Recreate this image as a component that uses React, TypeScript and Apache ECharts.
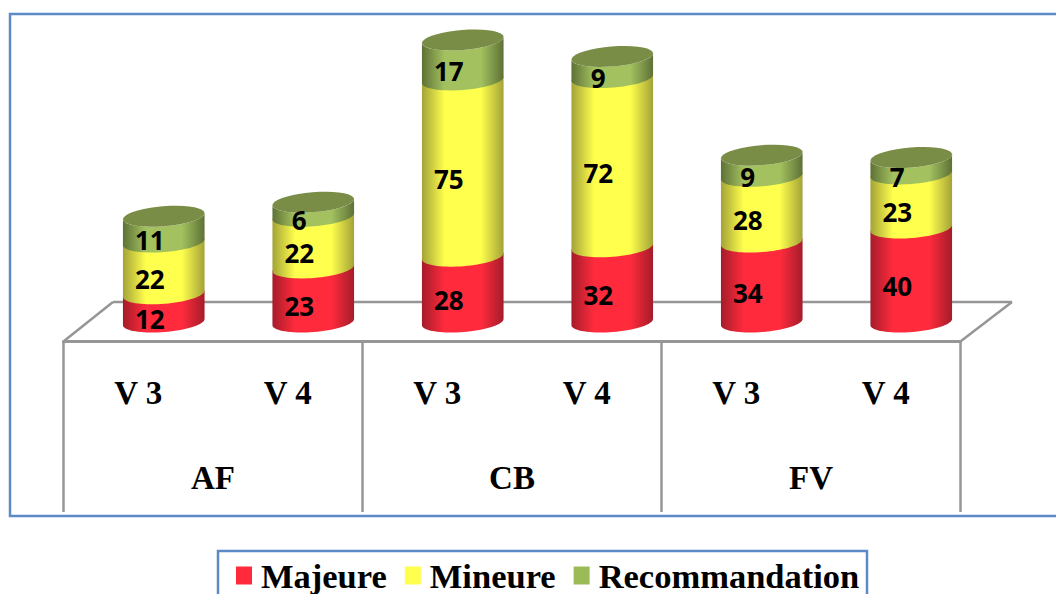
import React, { useEffect, useRef } from "react";
import * as echarts from "echarts";

const versions = ["V 3", "V 4", "V 3", "V 4", "V 3", "V 4"];
const groups = ["AF", "CB", "FV"];
const majeure = [12, 23, 28, 32, 34, 40];
const mineure = [22, 22, 75, 72, 28, 23];
const recommandation = [11, 6, 17, 9, 9, 7];

const seriesNames = ["Majeure", "Mineure", "Recommandation"];
const seriesValues = [majeure, mineure, recommandation];
const legendColors = ["#FF2B3D", "#FFFF4D", "#9BBB59"];
const edgeColors = ["#A51C2A", "#A3A338", "#5E7136"];
const midColors = ["#FF2B3D", "#FFFF4D", "#A3C25F"];
const topColor = "#7A8D47";

const serif = "'Liberation Serif', serif";
const GRAY = "#969696";

function buildData(k: number) {
  return seriesValues[k].map((v, i) => {
    let start = 0;
    for (let j = 0; j < k; j++) start += seriesValues[j][i];
    return [i, start, start + v, v];
  });
}

// Points of the tilted ellipse, left to right, through the front (t0=PI, t1=0) or the back.
function arc(cx: number, cy: number, rx: number, t0: number, t1: number) {
  const tilt = (-4.6 * Math.PI) / 180;
  const a = rx / Math.cos(tilt);
  const b = 10;
  const pts: number[][] = [];
  const steps = 36;
  for (let s = 0; s <= steps; s++) {
    const t = t0 + ((t1 - t0) * s) / steps;
    pts.push([
      cx + a * Math.cos(t) * Math.cos(tilt) - b * Math.sin(t) * Math.sin(tilt),
      cy + a * Math.cos(t) * Math.sin(tilt) + b * Math.sin(t) * Math.cos(tilt),
    ]);
  }
  return pts;
}

function renderCylinder(k: number) {
  return (_params: any, api: any) => {
    const i = api.value(0);
    const bottom = api.coord([i, api.value(1)]);
    const top = api.coord([i, api.value(2)]);
    const rx = api.size([1, 0])[0] * 0.273;
    const cx = bottom[0];
    const isLast = k === seriesValues.length - 1;
    // Lower segments run under the next one so no seam shows between them.
    const upper = arc(cx, top[1] - (isLast ? 0 : 1.5), rx, Math.PI, 0);
    const lower = arc(cx, bottom[1], rx, Math.PI, 0).reverse();
    const fill = new echarts.graphic.LinearGradient(0, 0, 1, 0, [
      { offset: 0, color: edgeColors[k] },
      { offset: 0.28, color: midColors[k] },
      { offset: 0.72, color: midColors[k] },
      { offset: 1, color: edgeColors[k] },
    ]);
    const children: any[] = [
      { type: "polygon", shape: { points: upper.concat(lower) }, style: { fill, stroke: "none" } },
    ];
    if (isLast) {
      children.push({
        type: "polygon",
        shape: { points: arc(cx, top[1], rx, Math.PI, -Math.PI) },
        style: { fill: topColor, stroke: "none" },
      });
    }
    children.push({
      type: "text",
      z2: 100,
      x: cx - 14,
      y: (top[1] + bottom[1]) / 2 + 11,
      style: {
        text: String(api.value(3)),
        fill: "#000",
        font: "700 26px 'Open Sans', sans-serif",
        align: "center",
        verticalAlign: "middle",
      },
    });
    return { type: "group", children };
  };
}

export default function App() {
  const ref = useRef<HTMLDivElement>(null);
  useEffect(() => {
    document.body.style.margin = "0";
    const chart = echarts.init(ref.current!, null, { renderer: "svg" });
    const floorLine = { stroke: GRAY, lineWidth: 2.5 };
    chart.setOption({
      animation: false,
      backgroundColor: "#fff",
      grid: [
        { left: 89, top: 40, width: 897, height: 282 },
        { left: 63.5, top: 341, width: 897, height: 171 },
      ],
      xAxis: [
        { gridIndex: 0, type: "category", data: versions, show: false },
        {
          gridIndex: 1,
          type: "category",
          data: groups,
          position: "top",
          axisLine: { show: true, onZero: false, lineStyle: { color: GRAY, width: 3 } },
          axisTick: { show: false },
          splitLine: { show: true, interval: 0, lineStyle: { color: GRAY, width: 2.5 } },
          axisLabel: {
            inside: true,
            interval: 0,
            margin: 120,
            color: "#000",
            fontFamily: serif,
            fontWeight: "bold",
            fontSize: 33,
          },
        },
        {
          gridIndex: 1,
          type: "category",
          data: versions,
          position: "top",
          axisLine: { show: false, onZero: false },
          axisTick: { show: false },
          axisLabel: {
            inside: true,
            interval: 0,
            margin: 35,
            color: "#000",
            fontFamily: serif,
            fontWeight: "bold",
            fontSize: 33,
          },
        },
      ],
      yAxis: [
        { gridIndex: 0, type: "value", min: 0, max: 120, show: false },
        { gridIndex: 1, type: "value", min: 0, max: 1, show: false },
      ],
      legend: {
        left: 236,
        top: 558,
        padding: 0,
        itemWidth: 16,
        itemHeight: 18,
        itemGap: 18,
        icon: "rect",
        selectedMode: false,
        data: seriesNames,
        textStyle: {
          color: "#000",
          fontFamily: serif,
          fontWeight: "bold",
          fontSize: 34.5,
          padding: [0, 0, 0, 4],
        },
      },
      graphic: [
        {
          type: "rect",
          shape: { x: 10, y: 14, width: 1100, height: 502 },
          style: { fill: "none", stroke: "#5B8AC6", lineWidth: 2.5 },
        },
        {
          type: "rect",
          shape: { x: 218, y: 551, width: 649, height: 80 },
          style: { fill: "none", stroke: "#5B8AC6", lineWidth: 2.5 },
        },
        { type: "line", shape: { x1: 64, y1: 341, x2: 113, y2: 302 }, style: floorLine },
        { type: "line", shape: { x1: 113, y1: 302, x2: 1012, y2: 302 }, style: floorLine },
        { type: "line", shape: { x1: 961, y1: 341, x2: 1012, y2: 302 }, style: floorLine },
      ],
      series: seriesNames.map((name, k) => ({
        name,
        type: "custom",
        xAxisIndex: 0,
        yAxisIndex: 0,
        itemStyle: { color: legendColors[k] },
        renderItem: renderCylinder(k),
        encode: { x: 0, y: 2 },
        data: buildData(k),
      })),
    });
    return () => chart.dispose();
  }, []);
  return <div ref={ref} style={{ width: 1056, height: 594 }} />;
}
